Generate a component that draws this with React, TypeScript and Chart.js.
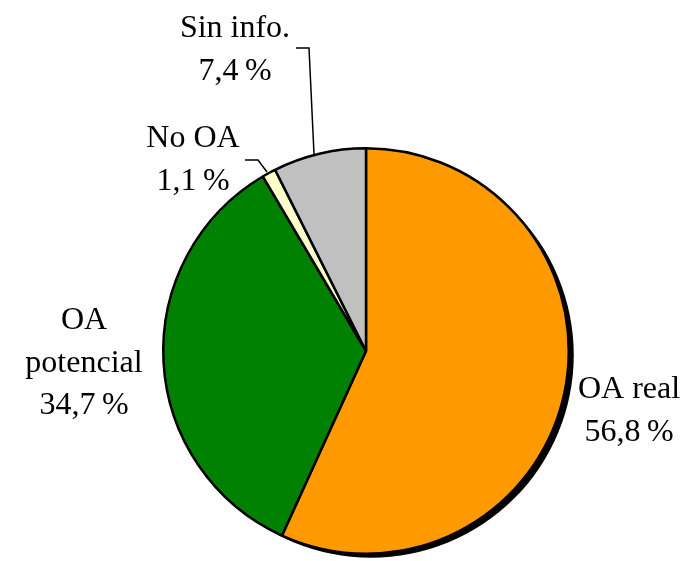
import React, { useEffect, useRef } from "react";
import { Chart, registerables } from "chart.js";

Chart.register(...registerables);

const categories = ["OA real", "OA potencial", "No OA", "Sin info."];
const values = [56.8, 34.7, 1.1, 7.4];
const valueLabels = ["56,8\u2009%", "34,7\u2009%", "1,1\u2009%", "7,4\u2009%"];
const colors = ["#FF9900", "#008000", "#FFFFCC", "#C0C0C0"];

const FONT = "32px 'Liberation Serif', 'DejaVu Serif', serif";

const shadowPlugin = {
  id: "shadow",
  beforeDatasetsDraw(chart: any) {
    const meta = chart.getDatasetMeta(0);
    const arc = meta.data[0];
    if (!arc) return;
    const { x, y, outerRadius } = arc.getProps(["x", "y", "outerRadius"], true);
    const ctx = chart.ctx;
    ctx.save();
    ctx.fillStyle = "#000";
    ctx.beginPath();
    ctx.arc(x + 5, y + 4, outerRadius, 0, Math.PI * 2);
    ctx.fill();
    ctx.restore();
  },
};

const labelPlugin = {
  id: "labels",
  afterDatasetsDraw(chart: any) {
    const ctx = chart.ctx;
    ctx.save();
    ctx.fillStyle = "#000";
    ctx.font = FONT;
    ctx.textAlign = "center";
    ctx.textBaseline = "alphabetic";
    const blocks: { lines: string[]; x: number; y: number }[] = [
      { lines: [categories[0], valueLabels[0]], x: 629, y: 398 },
      { lines: ["OA", "potencial", valueLabels[1]], x: 84, y: 329 },
      { lines: [categories[2], valueLabels[2]], x: 193, y: 147 },
      { lines: [categories[3], valueLabels[3]], x: 235, y: 37 },
    ];
    const lh = 42.5;
    blocks.forEach((b) => {
      b.lines.forEach((l, i) => ctx.fillText(l, b.x, b.y + i * lh));
    });
    ctx.strokeStyle = "#000";
    ctx.lineWidth = 1.5;
    ctx.beginPath();
    ctx.moveTo(296, 48);
    ctx.lineTo(309, 48);
    ctx.lineTo(314, 154);
    ctx.stroke();
    ctx.beginPath();
    ctx.moveTo(245, 160);
    ctx.lineTo(258, 160);
    ctx.lineTo(267, 172);
    ctx.stroke();
    ctx.restore();
  },
};

export default function App() {
  const ref = useRef<HTMLCanvasElement | null>(null);
  useEffect(() => {
    if (!ref.current) return;
    const chart = new Chart(ref.current, {
      type: "pie",
      data: {
        labels: categories,
        datasets: [
          {
            data: values,
            backgroundColor: colors,
            borderColor: "#000",
            borderWidth: 2.5,
          },
        ],
      },
      options: {
        animation: false,
        responsive: false,
        layout: { padding: { top: 147, bottom: 6, left: 162, right: 122 } },
        plugins: { legend: { display: false }, tooltip: { enabled: false } },
      },
      plugins: [shadowPlugin, labelPlugin],
    });
    return () => chart.destroy();
  }, []);
  return (
    <div style={{ position: "fixed", left: 0, top: 0, width: 692, height: 561, background: "#fff" }}>
      <canvas ref={ref} width={692} height={561} />
    </div>
  );
}
